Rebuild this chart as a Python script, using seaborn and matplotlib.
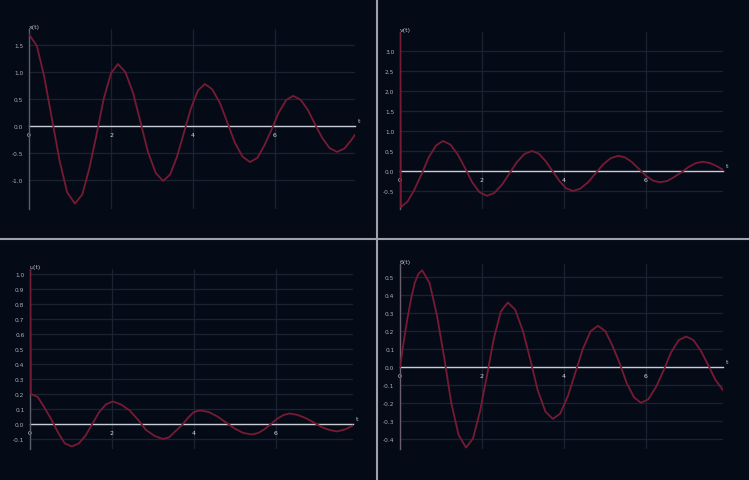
import matplotlib
matplotlib.use("Agg")
import matplotlib.pyplot as plt
from matplotlib.lines import Line2D
import seaborn as sns

# damped oscillation traces
tl_t = [0.00, 0.19, 0.37, 0.56, 0.75, 0.93, 1.12, 1.30, 1.47, 1.65, 1.82, 2.00, 2.17,
        2.35, 2.54, 2.72, 2.90, 3.09, 3.27, 3.44, 3.61, 3.78, 3.95, 4.12, 4.29,
        4.47, 4.66, 4.84, 5.02, 5.21, 5.39, 5.57, 5.74, 5.92, 6.09, 6.27, 6.44,
        6.62, 6.80, 6.97, 7.15, 7.33, 7.51, 7.69, 7.87, 7.95]
tl_y = [1.70, 1.49, 0.92, 0.13, -0.66, -1.23, -1.44, -1.27, -0.79, -0.15, 0.50, 0.98, 1.15,
        1.00, 0.61, 0.07, -0.48, -0.87, -1.02, -0.90, -0.57, -0.12, 0.33, 0.66, 0.78,
        0.68, 0.42, 0.06, -0.31, -0.57, -0.67, -0.59, -0.36, -0.06, 0.25, 0.48, 0.56,
        0.49, 0.30, 0.04, -0.22, -0.41, -0.48, -0.42, -0.25, -0.16]

tr_t = [0.00, 0.02, 0.18, 0.35, 0.53, 0.70, 0.88, 1.05, 1.23, 1.41, 1.59, 1.76, 1.94, 2.12,
        2.30, 2.49, 2.67, 2.85, 3.04, 3.22, 3.39, 3.55, 3.72, 3.89, 4.05, 4.22,
        4.40, 4.59, 4.77, 4.95, 5.14, 5.32, 5.49, 5.66, 5.83, 6.00, 6.17, 6.34,
        6.52, 6.69, 6.87, 7.04, 7.22, 7.39, 7.56, 7.73, 7.88]
tr_y = [3.45, -0.90, -0.77, -0.47, -0.07, 0.34, 0.64, 0.75, 0.66, 0.41, 0.07, -0.28, -0.53, -0.62,
        -0.55, -0.34, -0.06, 0.22, 0.43, 0.50, 0.43, 0.25, 0.00, -0.25, -0.43, -0.50,
        -0.44, -0.28, -0.06, 0.16, 0.32, 0.38, 0.34, 0.22, 0.05, -0.12, -0.24, -0.28,
        -0.25, -0.15, -0.03, 0.10, 0.20, 0.23, 0.20, 0.12, 0.03]

bl_t = [0.00, 0.02, 0.19, 0.35, 0.52, 0.69, 0.85, 1.02, 1.19, 1.35, 1.52, 1.69, 1.85, 2.02,
        2.22, 2.43, 2.63, 2.83, 3.04, 3.24, 3.39, 3.54, 3.70, 3.85, 4.00, 4.15,
        4.36, 4.57, 4.78, 4.99, 5.20, 5.41, 5.57, 5.72, 5.88, 6.03, 6.19, 6.34,
        6.53, 6.72, 6.92, 7.11, 7.30, 7.49, 7.70, 7.88]
bl_y = [1.03, 0.20, 0.18, 0.11, 0.03, -0.06, -0.13, -0.15, -0.13, -0.08, 0.00, 0.08, 0.13, 0.15,
        0.13, 0.09, 0.03, -0.04, -0.08, -0.10, -0.09, -0.05, -0.01, 0.04, 0.08, 0.09,
        0.08, 0.05, 0.01, -0.03, -0.06, -0.07, -0.06, -0.035, 0.00, 0.035, 0.06, 0.07,
        0.06, 0.04, 0.01, -0.02, -0.04, -0.05, -0.035, -0.01]

br_t = [0.00, 0.09, 0.18, 0.27, 0.36, 0.45, 0.54, 0.72, 0.90, 1.08, 1.25, 1.43, 1.61,
        1.78, 1.95, 2.12, 2.29, 2.46, 2.63, 2.81, 3.00, 3.18, 3.36, 3.55, 3.73,
        3.91, 4.10, 4.28, 4.46, 4.65, 4.83, 5.01, 5.18, 5.36, 5.53, 5.71, 5.88,
        6.06, 6.25, 6.43, 6.61, 6.80, 6.98, 7.16, 7.34, 7.52, 7.69, 7.88]
br_y = [0.00, 0.14, 0.27, 0.38, 0.47, 0.52, 0.54, 0.47, 0.29, 0.05, -0.20, -0.38, -0.45,
        -0.40, -0.25, -0.05, 0.16, 0.31, 0.36, 0.32, 0.20, 0.04, -0.13, -0.25, -0.29,
        -0.26, -0.16, -0.03, 0.10, 0.20, 0.23, 0.20, 0.12, 0.02, -0.09, -0.17, -0.20,
        -0.18, -0.11, -0.02, 0.08, 0.15, 0.17, 0.15, 0.09, 0.01, -0.07, -0.13]

x_ticks = [0, 2, 4, 6]
tl_yticks = [-1.0, -0.5, 0.0, 0.5, 1.0, 1.5]
tr_yticks = [-0.5, 0.0, 0.5, 1.0, 1.5, 2.0, 2.5, 3.0]
bl_yticks = [-0.1, 0.0, 0.1, 0.2, 0.3, 0.4, 0.5, 0.6, 0.7, 0.8, 0.9, 1.0]
br_yticks = [-0.4, -0.3, -0.2, -0.1, 0.0, 0.1, 0.2, 0.3, 0.4, 0.5]
labels = ["x(t)", "v(t)", "u(t)", "θ(t)"]

BG = "#050a17"
CURVE = "#761b33"
W, H = 749, 481

sns.set_style("dark", {"axes.facecolor": BG, "figure.facecolor": BG})
plt.rcParams["font.family"] = ["DejaVu Sans"]

fig = plt.figure(figsize=(W / 100, H / 100), dpi=100)


def box(l, r, t, b):
    return [l / W, 1 - b / H, (r - l) / W, (b - t) / H]


panels = [
    (box(29, 355, 30, 210), tl_t, tl_y, tl_yticks, (0, 7.95), (-1.54, 1.80), "#59606c"),
    (box(400, 723, 33, 210), tr_t, tr_y, tr_yticks, (0, 7.88), (-0.95, 3.475), "#59606c"),
    (box(30, 353, 270, 450), bl_t, bl_y, bl_yticks, (0, 7.88), (-0.167, 1.033), "#59606c"),
    (box(400, 723, 265, 450), br_t, br_y, br_yticks, (0, 7.88), (-0.458, 0.575), "#6a5f6c"),
]

for (rect, t, y, yt, xl, yl, spc), lab in zip(panels, labels):
    ax = fig.add_axes(rect)
    ax.set_facecolor(BG)
    for v in yt:
        ax.axhline(v, color="#1b2231", lw=0.9, zorder=0)
    for v in x_ticks[1:]:
        ax.axvline(v, color="#1b2231", lw=0.9, zorder=0)
    sns.lineplot(x=t, y=y, ax=ax, color=CURVE, linewidth=1.3, estimator=None, sort=False,
                 zorder=3, solid_joinstyle="round", solid_capstyle="round")
    ax.set_xlim(*xl)
    ax.set_ylim(*yl)
    ax.set_xticks(x_ticks)
    ax.set_xticklabels([str(v) for v in x_ticks])
    ax.set_yticks(yt)
    ax.set_yticklabels([f"{v:.1f}" for v in yt])
    ax.tick_params(axis="x", length=0, pad=4, labelsize=4.5, labelcolor="#d6dae2")
    ax.tick_params(axis="y", length=2, width=0.6, color="#3a4150", pad=2,
                   labelsize=4.2, labelcolor="#a9aeb8")
    ax.grid(False)
    for s in ["top", "right"]:
        ax.spines[s].set_visible(False)
    ax.spines["bottom"].set_position(("data", 0))
    ax.spines["bottom"].set_color("#c9cdd6")
    ax.spines["bottom"].set_linewidth(1.0)
    ax.spines["bottom"].set_zorder(2)
    ax.spines["left"].set_color(spc)
    ax.spines["left"].set_linewidth(1.0)
    ax.set_xlabel("")
    ax.set_ylabel("")
    ax.text(0, 1.0, lab, transform=ax.transAxes, ha="left", va="bottom",
            fontsize=4.5, color="#b8bcc6")
    ax.annotate("t", xy=(1, 0), xycoords=("axes fraction", "data"), xytext=(2, 3),
                textcoords="offset points", fontsize=4.5, color="#c9cdd6")

# panel separators
fig.add_artist(Line2D([377 / W, 377 / W], [0, 1], transform=fig.transFigure,
                      color="#9ea3ab", lw=1.5))
fig.add_artist(Line2D([0, 1], [1 - 240 / H, 1 - 240 / H], transform=fig.transFigure,
                      color="#9ea3ab", lw=1.5))

fig.savefig("out.png", dpi=100, facecolor=BG)
